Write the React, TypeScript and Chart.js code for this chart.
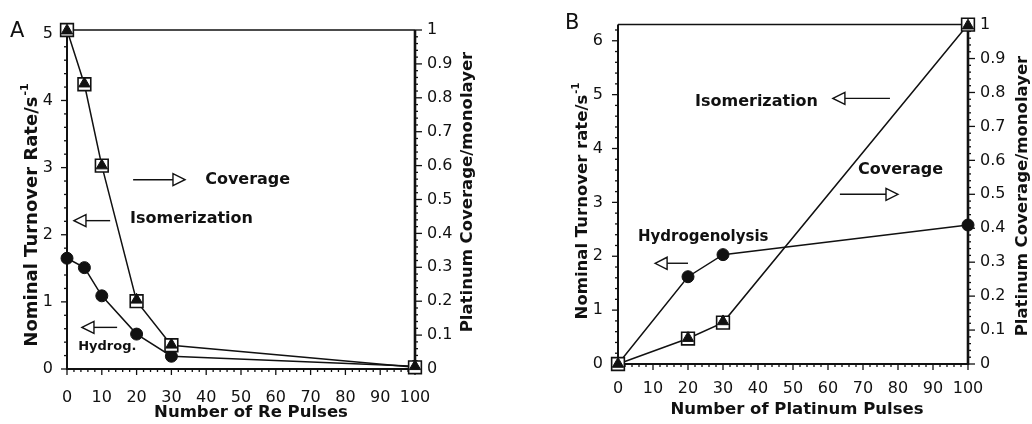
import React, { useEffect, useRef } from "react";
import { Chart, registerables } from "chart.js";

Chart.register(...registerables);

const W = 516;
const H = 424;
const INK = "#111111";
const FONT = "'DejaVu Sans', 'Liberation Sans', Arial, sans-serif";

// ---------- Panel A : Re pulses ----------
const rePulses = [0, 5, 10, 20, 30, 100];
const isomerizationA = [5.04, 4.25, 3.03, 1.03, 0.36, 0.04];
const coverageA = [1.0, 0.84, 0.6, 0.2, 0.07, 0.005];
const hydrogenolysisA = [1.65, 1.51, 1.09, 0.52, 0.19, 0.04];

// ---------- Panel B : Platinum pulses ----------
const ptPulses = [0, 20, 30, 100];
const isomerizationB = [0, 0.48, 0.79, 6.28];
const coverageB = [0, 0.075, 0.122, 1.0];
const hydrogenolysisB = [0, 1.62, 2.03, 2.58];

// ---------- Ticks ----------
const xTickValues = [0, 10, 20, 30, 40, 50, 60, 70, 80, 90, 100];
const leftTicksA = [0, 1, 2, 3, 4, 5];
const leftTicksB = [0, 1, 2, 3, 4, 5, 6];
const rightTickValues = [0, 0.1, 0.2, 0.3, 0.4, 0.5, 0.6, 0.7, 0.8, 0.9, 1];
const rightTickLabels = ["0", "0.1", "0.2", "0.3", "0.4", "0.5", "0.6", "0.7", "0.8", "0.9", "1"];

type Note = { text: string; x: number; y: number; size: number };
type Arrow = { from: number; to: number; y: number };

interface Panel {
  offset: number;
  x: number[];
  tri: number[];
  sq: number[];
  circ: number[];
  leftMax: number;
  leftTicks: number[];
  padTop: number;
  yWidth: number;
  y1Width: number;
  xHeight: number;
  yTickPad: number;
  y1TickPad: number;
  xTickPad: number;
  xTitle: string;
  xTitlePos: [number, number];
  yTitle: string;
  yTitleSize: number;
  yTitlePos: [number, number];
  y1Title: string;
  y1TitlePos: [number, number];
  label: string;
  labelPos: [number, number];
  notes: Note[];
  arrows: Arrow[];
}

const panelA: Panel = {
  offset: 0,
  x: rePulses,
  tri: isomerizationA,
  sq: coverageA,
  circ: hydrogenolysisA,
  leftMax: 5.05,
  leftTicks: leftTicksA,
  padTop: 30,
  yWidth: 67,
  y1Width: W - 415,
  xHeight: H - 369,
  yTickPad: 14,
  y1TickPad: 12,
  xTickPad: 19,
  xTitle: "Number of Re Pulses",
  xTitlePos: [251, 413],
  yTitle: "Nominal Turnover Rate/s",
  yTitleSize: 18,
  yTitlePos: [37, 215],
  y1Title: "Platinum Coverage/monolayer",
  y1TitlePos: [472, 192],
  label: "A",
  labelPos: [10, 37],
  notes: [
    { text: "Coverage", x: 39.7, y: 2.82, size: 16 },
    { text: "Isomerization", x: 18.1, y: 2.24, size: 16 },
    { text: "Hydrog.", x: 3.2, y: 0.33, size: 13 },
  ],
  arrows: [
    { from: 19.0, to: 33.9, y: 2.82 },
    { from: 12.4, to: 2.0, y: 2.21 },
    { from: 14.4, to: 4.3, y: 0.62 },
  ],
};

const panelB: Panel = {
  offset: W,
  x: ptPulses,
  tri: isomerizationB,
  sq: coverageB,
  circ: hydrogenolysisB,
  leftMax: 6.3,
  leftTicks: leftTicksB,
  padTop: 20,
  yWidth: 618 - W,
  y1Width: W - (968 - W),
  xHeight: H - 364,
  yTickPad: 15,
  y1TickPad: 12,
  xTickPad: 15,
  xTitle: "Number of Platinum Pulses",
  xTitlePos: [797 - W, 410],
  yTitle: "Nominal Turnover rate/s",
  yTitleSize: 16.5,
  yTitlePos: [587 - W, 201],
  y1Title: "Platinum Coverage/monolayer",
  y1TitlePos: [1027 - W, 196],
  label: "B",
  labelPos: [565 - W, 29],
  notes: [
    { text: "Isomerization", x: 22, y: 4.87, size: 16 },
    { text: "Coverage", x: 68.6, y: 3.61, size: 16 },
    { text: "Hydrogenolysis", x: 5.7, y: 2.36, size: 15 },
  ],
  arrows: [
    { from: 77.7, to: 61.4, y: 4.93 },
    { from: 63.4, to: 80, y: 3.15 },
    { from: 20, to: 10.6, y: 1.87 },
  ],
};

function drawArrow(ctx: CanvasRenderingContext2D, x1: number, x2: number, y: number) {
  const dir = Math.sign(x2 - x1);
  const headLen = 12;
  const half = 6;
  const baseX = x2 - dir * headLen;
  ctx.lineWidth = 1.4;
  ctx.strokeStyle = INK;
  ctx.beginPath();
  ctx.moveTo(x1, y);
  ctx.lineTo(baseX, y);
  ctx.stroke();
  ctx.beginPath();
  ctx.moveTo(x2, y);
  ctx.lineTo(baseX, y - half);
  ctx.lineTo(baseX, y + half);
  ctx.closePath();
  ctx.fillStyle = "#ffffff";
  ctx.fill();
  ctx.stroke();
}

function drawRotated(
  ctx: CanvasRenderingContext2D,
  text: string,
  sup: string,
  bx: number,
  cy: number,
  size: number
) {
  ctx.save();
  ctx.translate(bx, cy);
  ctx.rotate(-Math.PI / 2);
  const mainFont = `bold ${size}px ${FONT}`;
  const supFont = `bold ${Math.round(size * 0.62)}px ${FONT}`;
  ctx.font = mainFont;
  const w1 = ctx.measureText(text).width;
  let w2 = 0;
  if (sup) {
    ctx.font = supFont;
    w2 = ctx.measureText(sup).width + 1;
  }
  const start = -(w1 + w2) / 2;
  ctx.textAlign = "left";
  ctx.textBaseline = "alphabetic";
  ctx.fillStyle = INK;
  ctx.font = mainFont;
  ctx.fillText(text, start, 0);
  if (sup) {
    ctx.font = supFont;
    ctx.fillText(sup, start + w1 + 1, -size * 0.48);
  }
  ctx.restore();
}

function decorPlugin(p: Panel) {
  return {
    id: "decor" + p.label,
    beforeDatasetsDraw(chart: any) {
      const { ctx, chartArea: a, scales } = chart;
      const xs = scales.x;
      const ys = scales.y;
      const y1s = scales.y1;
      ctx.save();
      ctx.strokeStyle = INK;
      ctx.lineCap = "butt";
      // frame
      ctx.lineWidth = 1.5;
      ctx.beginPath();
      ctx.moveTo(a.left, a.top);
      ctx.lineTo(a.right, a.top);
      ctx.stroke();
      ctx.lineWidth = 2;
      ctx.beginPath();
      ctx.moveTo(a.left, a.top);
      ctx.lineTo(a.left, a.bottom);
      ctx.lineTo(a.right, a.bottom);
      ctx.stroke();
      ctx.lineWidth = 2.6;
      ctx.beginPath();
      ctx.moveTo(a.right, a.top);
      ctx.lineTo(a.right, a.bottom + 1);
      ctx.stroke();
      // x ticks
      ctx.lineWidth = 1.3;
      for (let i = 0; i <= 50; i++) {
        const v = i * 2;
        const px = xs.getPixelForValue(v);
        const len = i % 5 === 0 ? 6 : 3;
        ctx.beginPath();
        ctx.moveTo(px, a.bottom);
        ctx.lineTo(px, a.bottom + len);
        ctx.stroke();
      }
      // left ticks
      const nLeft = Math.floor(p.leftMax / 0.2 + 1e-6);
      for (let i = 0; i <= nLeft; i++) {
        const v = i * 0.2;
        const py = ys.getPixelForValue(v);
        const len = i % 5 === 0 ? 6 : 3;
        ctx.beginPath();
        ctx.moveTo(a.left - len, py);
        ctx.lineTo(a.left, py);
        ctx.stroke();
      }
      // right ticks
      for (let i = 0; i <= 50; i++) {
        const v = i * 0.02;
        const py = y1s.getPixelForValue(v);
        const len = i % 5 === 0 ? 7 : 3;
        ctx.beginPath();
        ctx.moveTo(a.right, py);
        ctx.lineTo(a.right + len, py);
        ctx.stroke();
      }
      ctx.restore();
    },
    afterDraw(chart: any) {
      const { ctx, scales } = chart;
      const xs = scales.x;
      const ys = scales.y;
      ctx.save();
      ctx.fillStyle = INK;
      // panel label
      ctx.font = `21px ${FONT}`;
      ctx.textAlign = "left";
      ctx.textBaseline = "alphabetic";
      ctx.fillText(p.label, p.labelPos[0], p.labelPos[1]);
      // x title
      ctx.font = `bold 16.5px ${FONT}`;
      ctx.textAlign = "center";
      ctx.textBaseline = "middle";
      ctx.fillText(p.xTitle, p.xTitlePos[0], p.xTitlePos[1]);
      // y titles
      drawRotated(ctx, p.yTitle, "-1", p.yTitlePos[0], p.yTitlePos[1], p.yTitleSize);
      drawRotated(ctx, p.y1Title, "", p.y1TitlePos[0], p.y1TitlePos[1], 16.5);
      // annotations
      for (const n of p.notes) {
        ctx.font = `bold ${n.size}px ${FONT}`;
        ctx.textAlign = "left";
        ctx.textBaseline = "middle";
        ctx.fillStyle = INK;
        ctx.fillText(n.text, xs.getPixelForValue(n.x), ys.getPixelForValue(n.y));
      }
      for (const ar of p.arrows) {
        drawArrow(ctx, xs.getPixelForValue(ar.from), xs.getPixelForValue(ar.to), ys.getPixelForValue(ar.y));
      }
      ctx.restore();
    },
  };
}

function pts(xs: number[], ys: number[]) {
  return xs.map((x, i) => ({ x, y: ys[i] }));
}

function buildChart(canvas: HTMLCanvasElement, p: Panel) {
  const tickFont = { family: FONT, size: 16 };
  const noGrid = { display: false, drawTicks: false, drawOnChartArea: false };
  return new Chart(canvas, {
    type: "scatter",
    data: {
      datasets: [
        {
          label: "Isomerization",
          data: pts(p.x, p.tri),
          yAxisID: "y",
          showLine: false,
          pointStyle: "triangle",
          pointRadius: 6.5,
          pointBackgroundColor: INK,
          pointBorderColor: INK,
          pointBorderWidth: 1,
          clip: false,
        },
        {
          label: "Coverage",
          data: pts(p.x, p.sq),
          yAxisID: "y1",
          showLine: true,
          borderColor: INK,
          borderWidth: 1.5,
          pointStyle: "rect",
          pointRadius: 9,
          pointBackgroundColor: "#ffffff",
          pointBorderColor: INK,
          pointBorderWidth: 1.6,
          clip: false,
        },
        {
          label: "Hydrogenolysis",
          data: pts(p.x, p.circ),
          yAxisID: "y",
          showLine: true,
          borderColor: INK,
          borderWidth: 1.5,
          pointStyle: "circle",
          pointRadius: 6,
          pointBackgroundColor: INK,
          pointBorderColor: INK,
          pointBorderWidth: 1,
          clip: false,
        },
      ],
    } as any,
    options: {
      responsive: false,
      animation: false,
      devicePixelRatio: 1,
      layout: { padding: { top: p.padTop, left: 0, right: 0, bottom: 0 } },
      elements: { line: { tension: 0 } },
      plugins: {
        legend: { display: false },
        tooltip: { enabled: false },
        title: { display: false },
      },
      scales: {
        x: {
          type: "linear",
          position: "bottom",
          min: 0,
          max: 100,
          grid: noGrid,
          border: { display: false },
          afterBuildTicks: (s: any) => {
            s.ticks = xTickValues.map((v) => ({ value: v }));
          },
          afterFit: (s: any) => {
            s.height = p.xHeight;
          },
          ticks: {
            font: tickFont,
            color: INK,
            padding: p.xTickPad,
            autoSkip: false,
            maxRotation: 0,
            callback: (v: any) => String(v),
          },
        },
        y: {
          type: "linear",
          position: "left",
          min: 0,
          max: p.leftMax,
          grid: noGrid,
          border: { display: false },
          afterBuildTicks: (s: any) => {
            s.ticks = p.leftTicks.map((v) => ({ value: v }));
          },
          afterFit: (s: any) => {
            s.width = p.yWidth;
          },
          ticks: {
            font: tickFont,
            color: INK,
            padding: p.yTickPad,
            autoSkip: false,
            callback: (v: any) => String(v),
          },
        },
        y1: {
          type: "linear",
          position: "right",
          min: 0,
          max: 1,
          grid: noGrid,
          border: { display: false },
          afterBuildTicks: (s: any) => {
            s.ticks = rightTickValues.map((v) => ({ value: v }));
          },
          afterFit: (s: any) => {
            s.width = p.y1Width;
          },
          ticks: {
            font: tickFont,
            color: INK,
            padding: p.y1TickPad,
            autoSkip: false,
            callback: (_v: any, i: number) => rightTickLabels[i],
          },
        },
      },
    } as any,
    plugins: [decorPlugin(p)],
  });
}

function PanelChart({ panel }: { panel: Panel }) {
  const ref = useRef<HTMLCanvasElement | null>(null);
  useEffect(() => {
    if (!ref.current) return;
    const chart = buildChart(ref.current, panel);
    return () => chart.destroy();
  }, [panel]);
  return (
    <canvas
      ref={ref}
      width={W}
      height={H}
      style={{ position: "absolute", left: panel.offset, top: 0, width: W, height: H }}
    />
  );
}

export default function App() {
  return (
    <div
      style={{
        position: "absolute",
        left: 0,
        top: 0,
        width: 1032,
        height: 424,
        background: "#ffffff",
        overflow: "hidden",
      }}
    >
      <PanelChart panel={panelA} />
      <PanelChart panel={panelB} />
    </div>
  );
}
